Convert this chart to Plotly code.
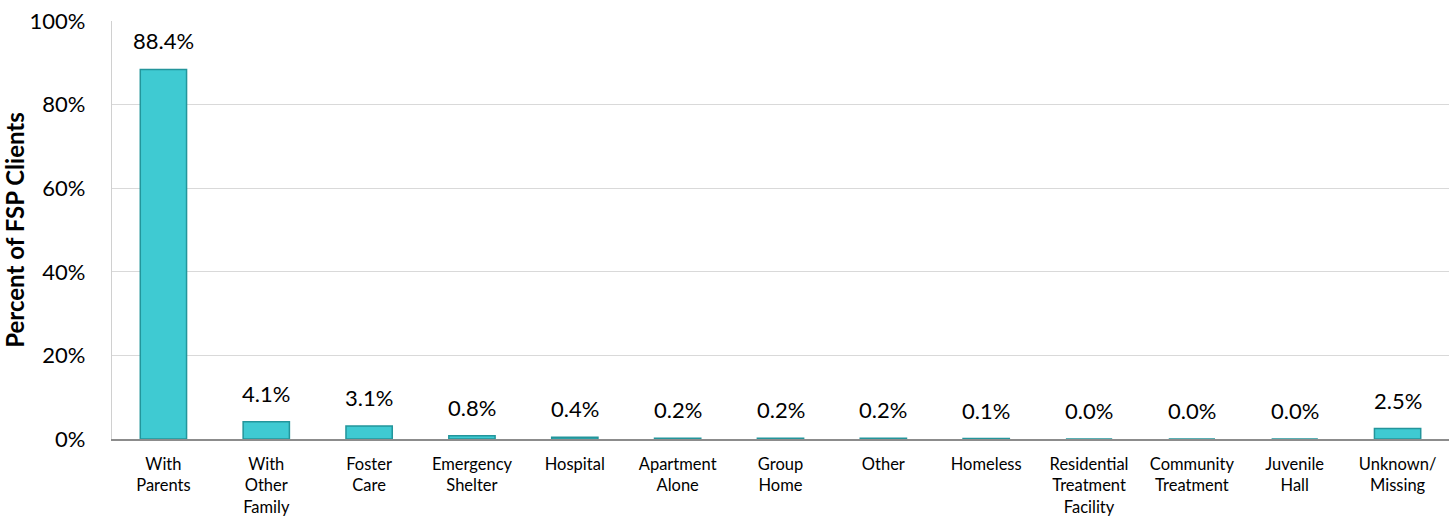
import plotly.graph_objects as go

categories = ["With<br>Parents", "With<br>Other<br>Family", "Foster<br>Care", "Emergency<br>Shelter",
              "Hospital", "Apartment<br>Alone", "Group<br>Home", "Other", "Homeless",
              "Residential<br>Treatment<br>Facility", "Community<br>Treatment", "Juvenile<br>Hall",
              "Unknown/<br>Missing"]
values = [88.4, 4.1, 3.1, 0.8, 0.4, 0.2, 0.2, 0.2, 0.1, 0.0, 0.0, 0.0, 2.5]
labels = [f"{v:.1f}%" for v in values]
yticks = [0, 20, 40, 60, 80, 100]
ytick_text = [f"{t}%" for t in yticks]

FONT = "Lato, 'Liberation Sans', sans-serif"

fig = go.Figure()
fig.add_trace(go.Bar(
    x=categories, y=values,
    marker=dict(color="#3fcad2", line=dict(color="#23959b", width=1.5)),
    width=0.45,
    hoverinfo="skip",
))
for c, v, t in zip(categories, values, labels):
    fig.add_annotation(x=c, y=v, text=t, showarrow=False, yanchor="bottom", yshift=13,
                       font=dict(family=FONT, size=22, color="#000"))

fig.update_layout(
    width=1454, height=527,
    margin=dict(l=112, r=5, t=21, b=88),
    paper_bgcolor="white", plot_bgcolor="white",
    showlegend=False,
    font=dict(family=FONT, color="#000"),
    bargap=0.55,
)
fig.update_xaxes(
    type="category", showline=True, linecolor="#8c8c8c", linewidth=2,
    tickfont=dict(family=FONT, size=16.5, color="#000"), ticks="", ticklen=0,
    tickangle=0, ticklabelstandoff=9,
)
fig.update_yaxes(
    range=[0, 100], tickvals=yticks, ticktext=ytick_text,
    showgrid=True, gridcolor="#d9d9d9", gridwidth=1.3,
    showline=True, linecolor="#d0d0d0", linewidth=1.3,
    tickfont=dict(family=FONT, size=22, color="#000"), ticks="", ticklabelstandoff=21,
    zeroline=False,
    title=dict(text="<b>Percent of FSP Clients</b>", font=dict(family=FONT, size=24, color="#000"), standoff=3),
)
fig.write_html("out.html")
